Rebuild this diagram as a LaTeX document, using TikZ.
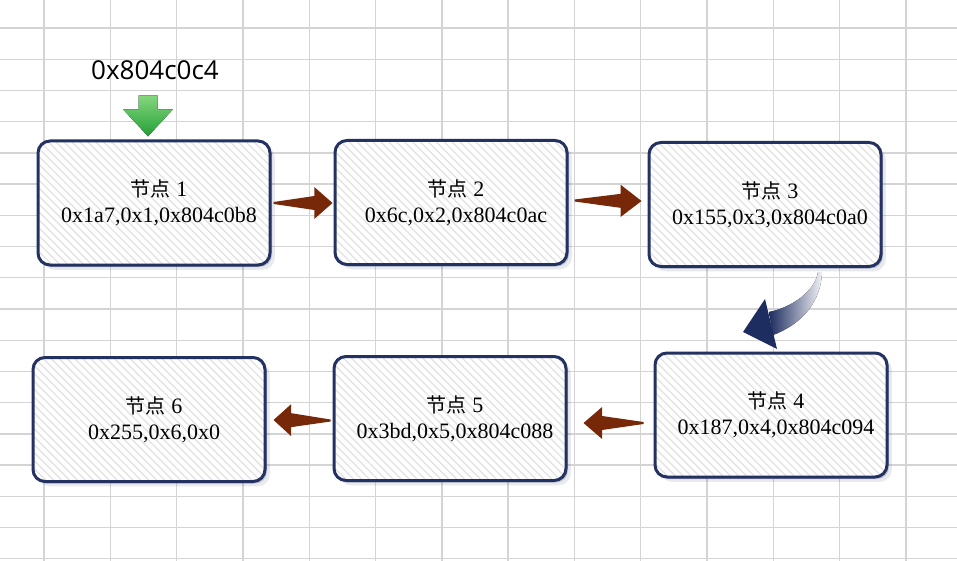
\documentclass[tikz,border=0pt]{standalone}
\usepackage{fontspec}
\setmainfont{Liberation Serif}
\newfontfamily\cjkfont{Noto Sans CJK SC}
\newfontfamily\uifont{Open Sans}
\usetikzlibrary{calc,shadows,patterns.meta}
\definecolor{gridcol}   {RGB}{212,212,212}
\definecolor{boxborder} {RGB}{ 36, 50, 98}
\definecolor{stripecol} {RGB}{228,228,228}
\definecolor{linkbrown} {RGB}{118, 40,  8}
\definecolor{navyarrow} {RGB}{ 30, 45, 96}
\definecolor{greentop}  {RGB}{132,216,124}
\definecolor{greenbot}  {RGB}{ 36,158, 56}
\tikzset{
  %% Spreadsheet cell lines in the background
  gridline/.style={draw=gridcol, line width=0.7pt},
  %% List node: rounded card, hatched fill, soft shadow
  listnode/.style={
    draw=boxborder, line width=1.5pt,
    rounded corners=6pt,
    minimum width=116pt, minimum height=62pt,
    inner sep=0pt, align=center,
    font=\fontsize{11}{13}\selectfont,
    drop shadow={shadow xshift=1pt, shadow yshift=-1pt,
                 opacity=0.22, fill=boxborder},
    drop shadow={shadow xshift=2.4pt, shadow yshift=-2.4pt,
                 opacity=0.10, fill=boxborder},
    preaction={fill=white},
    pattern={Lines[angle=-45, distance=2.8pt, line width=0.7pt]},
    pattern color=stripecol
  },
  linkfill/.style={fill=linkbrown},
  addrlabel/.style={font=\uifont\fontsize{13}{15}\selectfont},
}
%% Two text lines of a node, set a little right of centre
\newcommand{\nodetitle}[1]{\hspace*{5pt}{\cjkfont\fontsize{10}{13}\selectfont 节点} #1}
\newcommand{\nodedata}[1]{\hspace*{5pt}#1}
%% Block arrow with a tapered tail: #1 tail, #2 tip (horizontal)
\newcommand{\linkarrow}[2]{%
  \fill[linkfill]
    ($(#1)+(0,-1)$)
    -- ($(#1)!0.69!(#2)+(0,-7)$)
    -- ($(#1)!0.69!(#2)+(0,-16)$)
    -- (#2)
    -- ($(#1)!0.69!(#2)+(0,16)$)
    -- ($(#1)!0.69!(#2)+(0,7)$)
    -- ($(#1)+(0,1)$) -- cycle;%
}

\begin{document}
\begin{tikzpicture}[x=0.5pt, y=-0.5pt, line cap=round, line join=round]

  %% ── Layout constants ──────────────────────────────────────────────────
  \def\PW{957}    % picture width
  \def\PH{561}    % picture height
  \def\GX{44}     % first vertical grid line
  \def\GW{66.3}   % column width
  \def\GY{28}     % first horizontal grid line
  \def\GH{31.22}  % row height

  \useasboundingbox (0,0) rectangle (\PW,\PH);
  \fill[white] (0,0) rectangle (\PW,\PH);

  %% ══════════════════════════════════════════════════════════════════════
  %%  GRID
  %% ══════════════════════════════════════════════════════════════════════
  \foreach \i in {0,...,13}{
    \draw[gridline] ({\GX+\i*\GW},0) -- ({\GX+\i*\GW},\PH);
  }
  \foreach \j in {0,...,17}{
    \draw[gridline] (0,{\GY+\j*\GH}) -- (\PW,{\GY+\j*\GH});
  }

  %% ══════════════════════════════════════════════════════════════════════
  %%  LIST NODES
  %% ══════════════════════════════════════════════════════════════════════
  % top row
  \node[listnode] (n1) at (154,203)
        {\nodetitle{1}\\\nodedata{0x1a7,0x1,0x804c0b8}};
  \node[listnode] (n2) at (451,202.5)
        {\nodetitle{2}\\\nodedata{0x6c,0x2,0x804c0ac}};
  \node[listnode] (n3) at (765,204.5)
        {\nodetitle{3}\\\nodedata{0x155,0x3,0x804c0a0}};
  % bottom row
  \node[listnode] (n4) at (771,415)
        {\nodetitle{4}\\\nodedata{0x187,0x4,0x804c094}};
  \node[listnode] (n5) at (450,418.5)
        {\nodetitle{5}\\\nodedata{0x3bd,0x5,0x804c088}};
  \node[listnode] (n6) at (149,419.5)
        {\nodetitle{6}\\\nodedata{0x255,0x6,0x0}};

  %% ── Head pointer ──────────────────────────────────────────────────────
  \node[addrlabel] (addr) at (155,70) {0x804c0c4};
  \coordinate (gtip) at ($(n1.north)+(-6,-4)$);
  \begin{scope}[shift={(gtip)}]
    \fill[top color=greentop, bottom color=greenbot]
      (-9.5,-41) -- (9.5,-41) -- (9.5,-27) -- (25,-27)
      -- (0,0) -- (-25,-27) -- (-9.5,-27) -- cycle;
  \end{scope}

  %% ══════════════════════════════════════════════════════════════════════
  %%  LINKS
  %% ══════════════════════════════════════════════════════════════════════
  \coordinate (a1s) at ($(n1.east)+(3,0)$);
  \coordinate (a1e) at ($(n2.west)+(-1,0.5)$);
  \coordinate (a2s) at ($(n2.east)+(6,-2)$);
  \coordinate (a2e) at ($(n3.west)+(-6,-3.5)$);
  \coordinate (a4s) at ($(n4.west)+(-10,8)$);
  \coordinate (a4e) at ($(n5.east)+(16,4.5)$);
  \coordinate (a5s) at ($(n5.west)+(-2,2)$);
  \coordinate (a5e) at ($(n6.east)+(7,0.5)$);
  \linkarrow{a1s}{a1e}
  \linkarrow{a2s}{a2e}
  \linkarrow{a4s}{a4e}
  \linkarrow{a5s}{a5e}

  %% Curved link from node 3 down to node 4
  \coordinate (ctail) at ($(n3.south)+(55,4)$);
  \begin{scope}[shift={(ctail)}]
    \fill[left color=navyarrow, middle color=navyarrow!80,
          right color=navyarrow!6]
      (-2,0) .. controls (-5,20) and (-30,36) .. (-51,40)
      -- (-47,63) .. controls (-18,52) and (1,30) .. (2,0) -- cycle;
    \fill[navyarrow] (-55,27) -- (-77,60) -- (-43,77) -- cycle;
  \end{scope}

\end{tikzpicture}
\end{document}
